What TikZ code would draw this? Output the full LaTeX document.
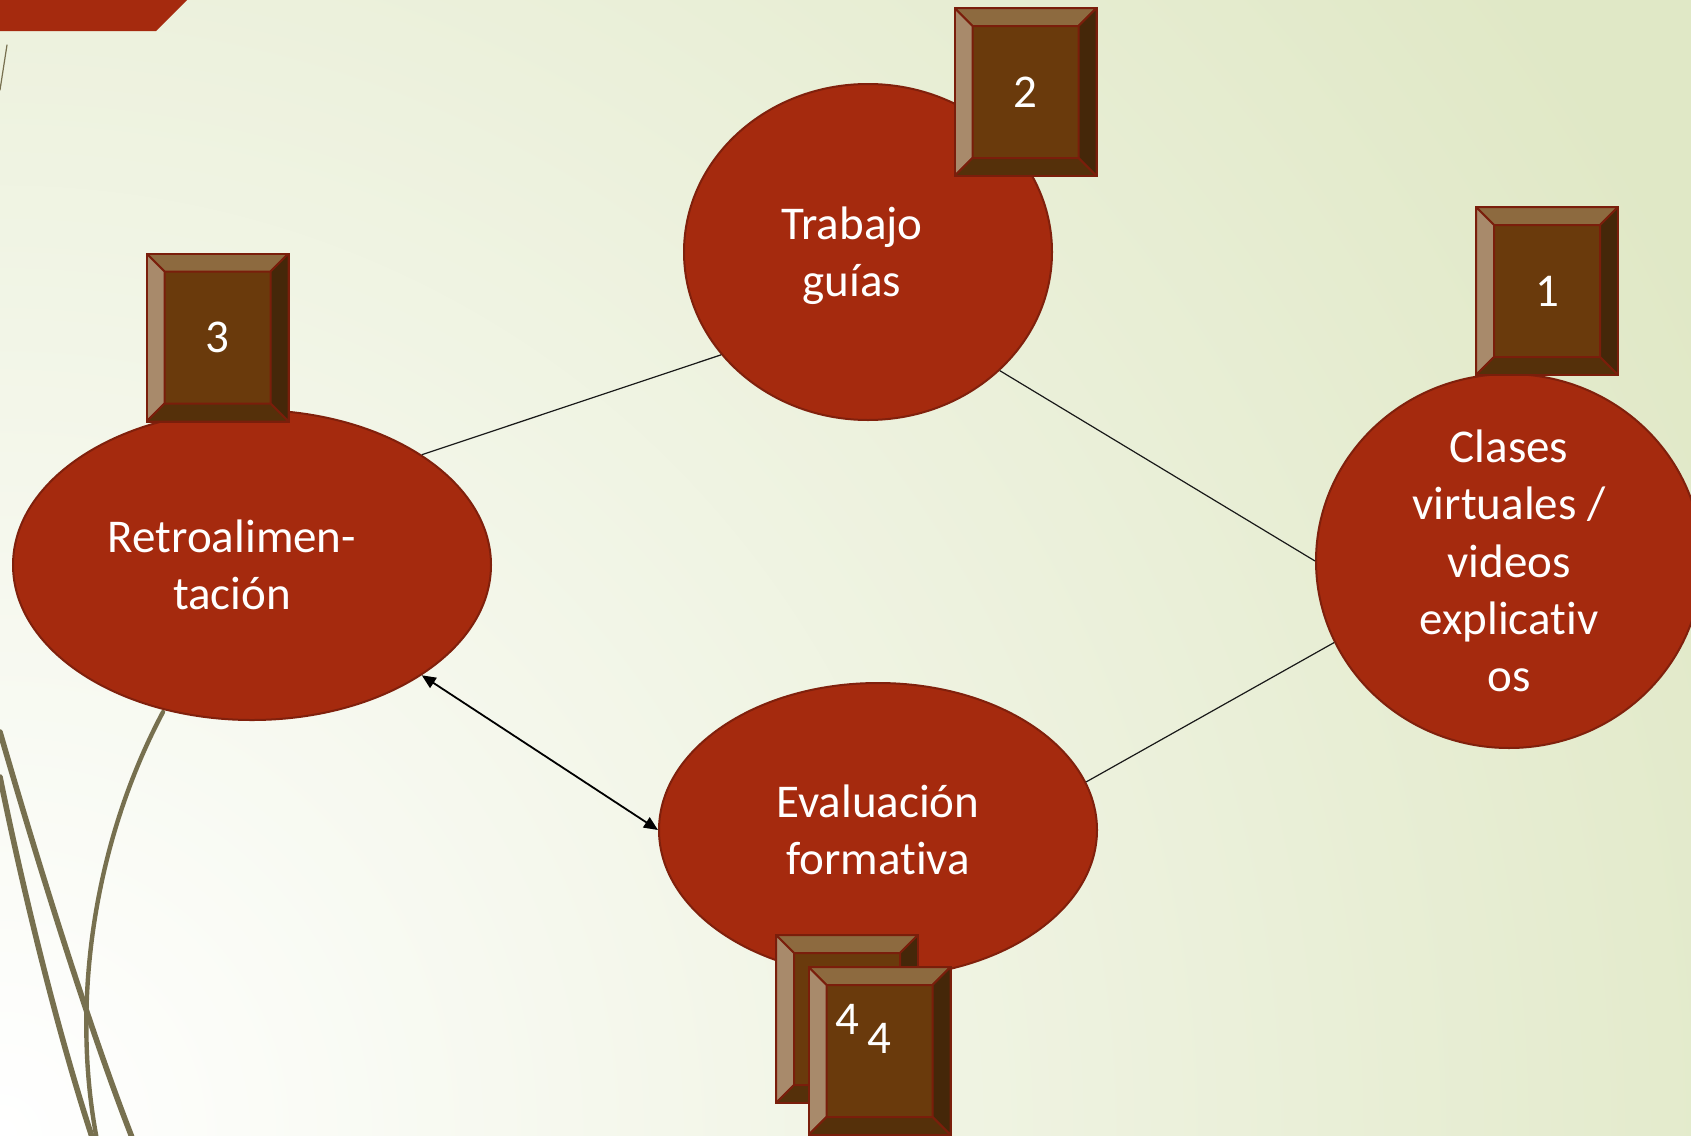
\documentclass[tikz,border=0pt]{standalone}
\usepackage{fontspec}
\setmainfont[Ligatures=NoCommon]{Carlito}
\usetikzlibrary{shapes.geometric,arrows.meta,calc}

\definecolor{bggreen}{RGB}{224,232,198}
\definecolor{ovalred}{RGB}{165,42,14}
\definecolor{ovalline}{RGB}{128,32,12}
\definecolor{boxline}{RGB}{122,30,11}
\definecolor{boxface}{RGB}{106,58,12}
\definecolor{bevtop}{RGB}{141,106,63}
\definecolor{bevleft}{RGB}{168,138,107}
\definecolor{bevright}{RGB}{69,39,9}
\definecolor{bevbottom}{RGB}{85,48,10}
\definecolor{wisp}{RGB}{119,112,79}

\begin{document}
\begin{tikzpicture}[x=0.5pt, y=-0.5pt,
ovalnode/.style={ellipse, draw=ovalline, line width=1pt, fill=ovalred, inner sep=0pt},
ovaltext/.style={text=white, align=center, font=\fontsize{23.5}{28.7}\selectfont},
bevelbox/.style={rectangle, draw=boxline, line width=1pt, fill=boxface, minimum width=71pt, minimum height=84pt, inner sep=0pt, text=white, font=\fontsize{23.5}{28.7}\selectfont,
  path picture={
    \path (path picture bounding box.north west) coordinate (o1)
          (path picture bounding box.north east) coordinate (o2)
          (path picture bounding box.south east) coordinate (o3)
          (path picture bounding box.south west) coordinate (o4);
    \path ($(o1)+(9pt,-9pt)$) coordinate (i1) ($(o2)+(-9pt,-9pt)$) coordinate (i2)
          ($(o3)+(-9pt,9pt)$) coordinate (i3) ($(o4)+(9pt,9pt)$) coordinate (i4);
    \filldraw[bevel, fill=bevtop] (o1) -- (o2) -- (i2) -- (i1) -- cycle;
    \filldraw[bevel, fill=bevleft] (o1) -- (i1) -- (i4) -- (o4) -- cycle;
    \filldraw[bevel, fill=bevright] (o2) -- (o3) -- (i3) -- (i2) -- cycle;
    \filldraw[bevel, fill=bevbottom] (o4) -- (i4) -- (i3) -- (o3) -- cycle;
  }},
bevel/.style={draw=boxline, line width=1pt, line join=round},
link/.style={draw=black!90, line width=0.6pt},
twoway/.style={<->, >={Triangle[length=7pt,width=6pt]}, draw=black, line width=0.9pt},
wispline/.style={draw=wisp, line cap=round},
]
\useasboundingbox (0,0) rectangle (1691,1135);
\clip (0,0) rectangle (1691,1135);
%background
\fill[bggreen] (0,0) rectangle (1691,1135);
\shade[inner color=white, outer color=bggreen] (0,1135) circle (1900);
\fill[ovalred] (0,0) -- (187,0) -- (156,31) -- (0,31) -- cycle;
\draw[wispline, line width=0.6pt] (7,45) -- (0,90);
\draw[wispline, line width=2.8pt] (0,732) .. controls (40,870) and (90,1030) .. (133,1140);
\draw[wispline, line width=2.8pt] (0,777) .. controls (25,900) and (60,1040) .. (93,1140);
\draw[wispline, line width=2.2pt] (163,712) .. controls (95,840) and (70,1000) .. (97,1140);
%nodes
\node[ovalnode, minimum width=184pt, minimum height=168pt, label={[ovaltext, xshift=-8pt, yshift=-2pt]center:Trabajo\\guías}] (trabajo) at (868,252) {};
\node[ovalnode, minimum width=193pt, minimum height=187pt, label={[ovaltext]center:Clases\\virtuales /\\videos\\explicativ\\os}] (clases) at (1509,561) {};
\node[ovalnode, minimum width=239pt, minimum height=155pt, label={[ovaltext, xshift=-10pt]center:Retroalimen-\\tación}] (retro) at (252,565) {};
\node[ovalnode, minimum width=219pt, minimum height=147pt, label={[ovaltext]center:Evaluación\\formativa}] (eval) at (878,830) {};
%connections
\draw[link] (retro.33) -- (trabajo.215);
\draw[link] (trabajo.-42) -- (clases.180);
\draw[link] (clases.205) -- (eval.13);
\draw[twoway] (retro.-33) -- (eval.180);
%numbers
\node[bevelbox] (num1) at (1547,291) {1};
\node[bevelbox] (num2) at (1025.5,92) {2};
\node[bevelbox] (num3) at (217.5,337.5) {3};
\node[bevelbox] (num4a) at (847,1019) {};
\node[bevelbox] (num4b) at (879.5,1051) {\raisebox{13pt}{4}};
\node[text=white, font=\fontsize{23.5}{28.7}\selectfont] (num4a-text) at (num4a) {4};
\end{tikzpicture}
\end{document}
